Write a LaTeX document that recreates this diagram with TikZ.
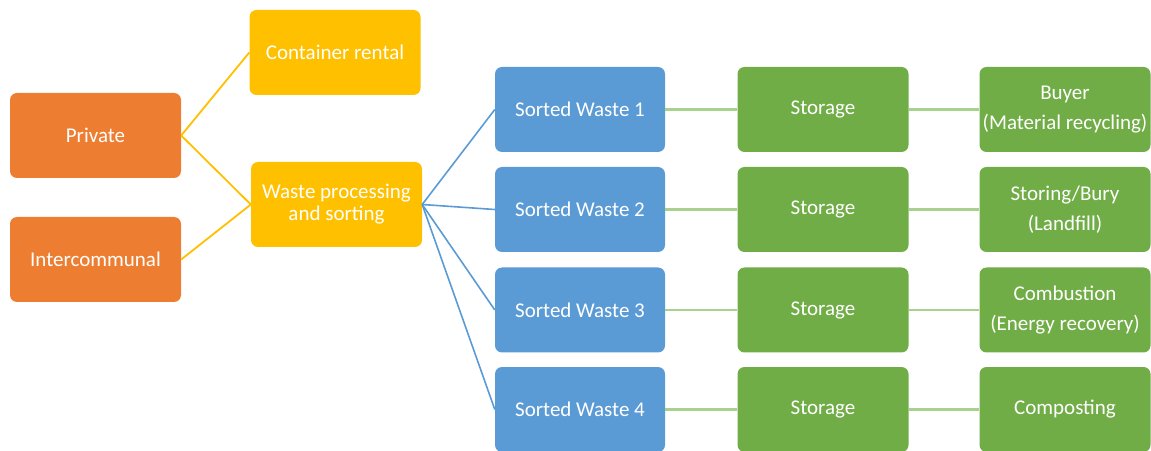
\documentclass[tikz,border=0pt]{standalone}
\usepackage{fontspec}
\setmainfont{Carlito}
\definecolor{boxorange}{HTML}{ED7D31}
\definecolor{boxyellow}{HTML}{FFC000}
\definecolor{boxblue}{HTML}{5B9BD5}
\definecolor{boxgreen}{HTML}{70AD47}
\definecolor{linkgreen}{HTML}{A9D18E}
\tikzset{
  card/.style={rounded corners=7pt, minimum width=171pt, minimum height=85pt,
    text=white, align=center, inner sep=1pt,
    font=\fontsize{21}{22}\selectfont},
  srcbox/.style={card, fill=boxorange},
  procbox/.style={card, fill=boxyellow},
  sortbox/.style={card, fill=boxblue, minimum width=170pt},
  endbox/.style={card, fill=boxgreen, font=\fontsize{21}{30}\selectfont},
  ylink/.style={draw=boxyellow, line width=1.8pt},
  blink/.style={draw=boxblue, line width=1.6pt},
  glink/.style={draw=linkgreen, line width=2.6pt},
}
\begin{document}
\begin{tikzpicture}[x=1pt, y=1pt]
\useasboundingbox (0,0) rectangle (1151,450);

% sources
\node[srcbox] (priv) at (95.5,314.5) {Private};
\node[srcbox] (inter) at (95.5,190.5) {Intercommunal};

% services
\node[procbox] (rent) at (335,397.5) {Container rental};
\node[procbox] (proc) at (336.5,245.5) {Waste processing\\and sorting};

% sorted fractions
\node[sortbox] (sw1) at (580,340.5) {Sorted Waste 1};
\node[sortbox] (sw2) at (580,240.5) {Sorted Waste 2};
\node[sortbox] (sw3) at (580,140) {Sorted Waste 3};
\node[sortbox] (sw4) at (580,40.5) {Sorted Waste 4};

% storage
\node[endbox] (st1) at (823,340.5) {Storage};
\node[endbox] (st2) at (823,240.5) {Storage};
\node[endbox] (st3) at (823,140) {Storage};
\node[endbox] (st4) at (823,40.5) {Storage};

% destinations
\node[endbox] (d1) at (1065,340.5) {Buyer\\(Material recycling)};
\node[endbox] (d2) at (1065,240.5) {Storing/Bury\\(Landfill)};
\node[endbox] (d3) at (1065,140) {Combustion\\(Energy recovery)};
\node[endbox] (d4) at (1065,40.5) {Composting};

% links
\draw[ylink] (priv.east) -- (rent.west);
\draw[ylink] (priv.east) -- (proc.west);
\draw[ylink] (inter.east) -- (proc.west);

\foreach \k in {1,2,3,4}{
  \draw[blink] (proc.east) -- (sw\k.west);
  \draw[glink] (sw\k.east) -- (st\k.west);
  \draw[glink] (st\k.east) -- (d\k.west);
}
\end{tikzpicture}
\end{document}
